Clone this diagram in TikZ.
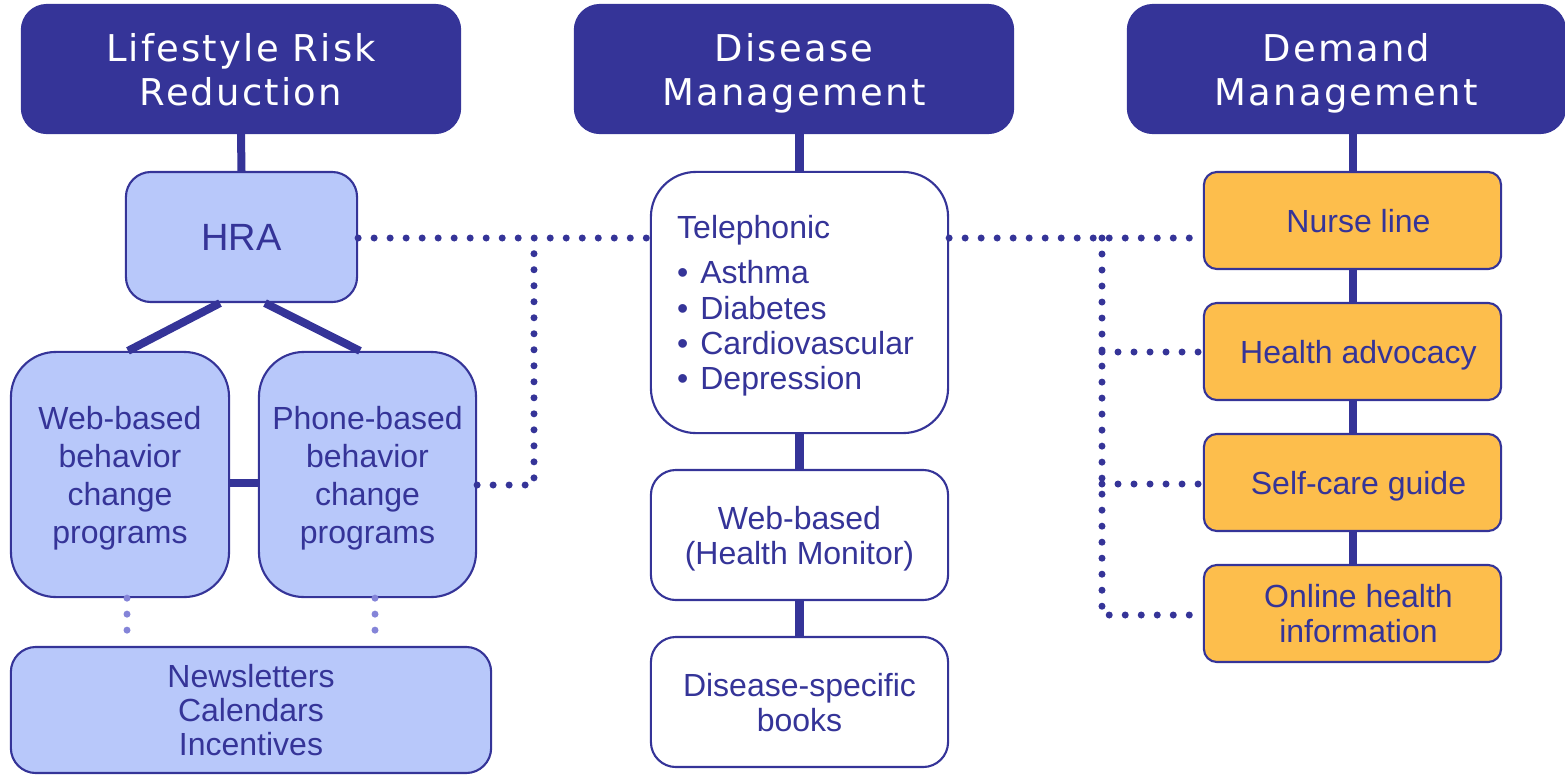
\documentclass[tikz,border=0pt]{standalone}
\usepackage{fontspec}
\setmainfont{Liberation Sans}
\newfontfamily\headfont[LetterSpace=6]{DejaVu Sans}
\definecolor{navy}{HTML}{353498}
\definecolor{lightblue}{HTML}{B8C8FA}
\definecolor{orangebox}{HTML}{FDBE4C}
\definecolor{lightpurple}{HTML}{8484D8}
\newcommand{\rs}{\rule{0.12cm}{0pt}}
\begin{document}
\begin{tikzpicture}[x=0.01cm,y=-0.01cm,
  base/.style={draw=navy, line width=0.6pt, inner sep=0pt, align=center, text=navy,
    text depth=0pt, font=\fontsize{9.1}{10}\selectfont},
  hdr/.style={base, fill=navy, text=white, rounded corners=0.25cm,
    minimum width=4.38cm, minimum height=1.28cm,
    font=\headfont\fontsize{10.5}{12.5}\selectfont},
  bluebox/.style={base, fill=lightblue},
  orgbox/.style={base, fill=orangebox, rounded corners=0.13cm,
    minimum width=2.97cm, minimum height=0.97cm},
  whitebox/.style={base, fill=white, minimum width=2.97cm},
  link/.style={draw=navy, line width=0.08cm},
  dotline/.style={draw=navy, line width=0.07cm, line cap=round, dash pattern=on 0pt off 0.16cm},
  ldotline/.style={dotline, draw=lightpurple}
]
\useasboundingbox (0,0) rectangle (1565,775);

% headers
\node[hdr] (h1) at (241,69) {Lifestyle Risk\\Reduction};
\node[hdr] (h2) at (794,69) {Disease\\Management};
\node[hdr, minimum width=4.37cm] (h3) at (1346.5,69) {Demand\\Management};

% left column
\node[bluebox, rounded corners=0.25cm, minimum width=2.31cm, minimum height=1.30cm,
  font=\fontsize{10.8}{12}\selectfont] (hra) at (241.5,237) {HRA};
\node[bluebox, rounded corners=0.45cm, minimum width=2.18cm, minimum height=2.45cm,
  font=\fontsize{9.1}{10.8}\selectfont] (web) at (120,474.5)
  {Web-based\\behavior\\change\\programs};
\node[bluebox, rounded corners=0.45cm, minimum width=2.17cm, minimum height=2.45cm,
  font=\fontsize{9.1}{10.8}\selectfont] (phone) at (367.5,474.5)
  {Phone-based\\behavior\\change\\programs};
\node[bluebox, rounded corners=0.25cm, minimum width=4.80cm, minimum height=1.26cm,
  font=\fontsize{9.1}{9.7}\selectfont] (news) at (251,710)
  {Newsletters\\Calendars\\Incentives};

% middle column
\node[whitebox, rounded corners=0.45cm, minimum height=2.61cm, align=left] (tel) at (799.5,302.5)
  {Telephonic\\[2.8pt]
   •\hspace{0.12cm}Asthma\\
   •\hspace{0.12cm}Diabetes\\
   •\hspace{0.12cm}Cardiovascular\rule{0.08cm}{0pt}\\
   •\hspace{0.12cm}Depression};
\node[whitebox, rounded corners=0.25cm, minimum height=1.30cm] (webhm) at (799.5,535)
  {Web-based\\(Health Monitor)};
\node[whitebox, rounded corners=0.25cm, minimum height=1.30cm] (books) at (799.5,702)
  {Disease-specific\\books};

% right column
\node[orgbox] (nurse) at (1352.5,220.5) {\rs Nurse line};
\node[orgbox] (adv) at (1352.5,351.5) {\rs Health advocacy};
\node[orgbox] (self) at (1352.5,482.5) {\rs Self-care guide};
\node[orgbox] (online) at (1352.5,613.5) {\rs Online health\\\rs information};

% solid connectors
\draw[link] (h1.south) -- (hra.north);
\draw[link] ([xshift=-0.215cm]hra.south) -- ([xshift=0.08cm]web.north);
\draw[link] ([xshift=0.235cm]hra.south) -- ([xshift=-0.075cm]phone.north);
\draw[link] (web.east |- 0,483) -- (phone.west |- 0,483);
\draw[link] (h2.south -| tel.north) -- (tel.north);
\draw[link] (tel.south) -- (webhm.north);
\draw[link] (webhm.south) -- (books.north);
\draw[link] (h3.south -| nurse.north) -- (nurse.north);
\draw[link] (nurse.south) -- (adv.north);
\draw[link] (adv.south) -- (self.north);
\draw[link] (self.south) -- (online.north);

% dotted connectors
\coordinate (lc) at (534,238);
\coordinate (rc) at (1102,238);
\draw[dotline] (hra.east |- lc) -- (tel.west |- lc);
\draw[dotline] (phone.east |- 0,485) -- (534,485) -- (lc);
\draw[dotline] (tel.east |- rc) -- (nurse.west |- rc);
\draw[dotline] (rc) -- (1102,615) -- (online.west |- 0,615);
\draw[dotline] (1102,352) -- (adv.west |- 0,352);
\draw[dotline] (1102,484) -- (self.west |- 0,484);
\draw[ldotline] ([xshift=0.07cm]web.south) -- ([xshift=0.07cm]web.south |- news.north);
\draw[ldotline] ([xshift=0.075cm]phone.south) -- ([xshift=0.075cm]phone.south |- news.north);
\end{tikzpicture}
\end{document}
